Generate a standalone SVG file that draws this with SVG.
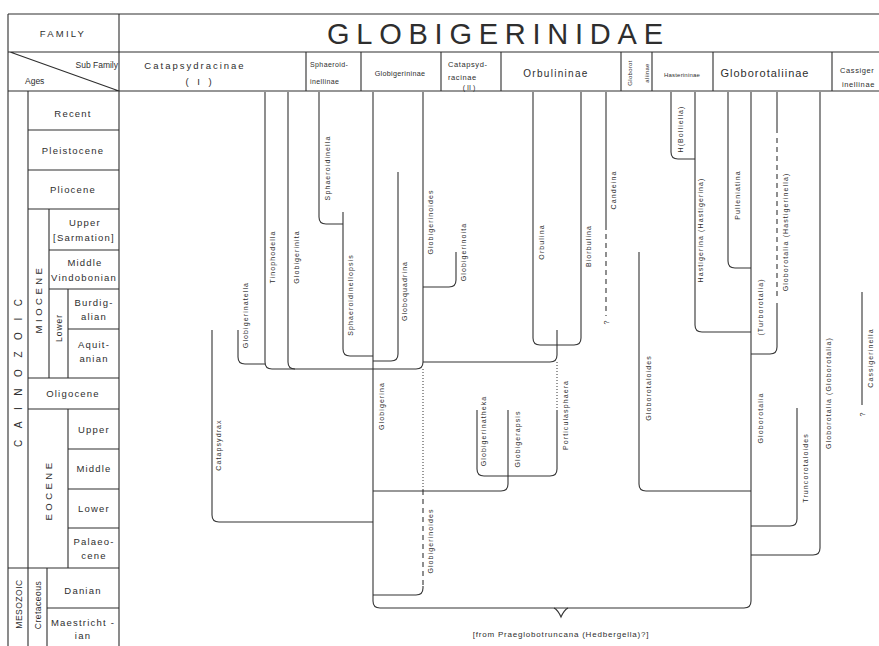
<svg xmlns="http://www.w3.org/2000/svg" width="879" height="646" viewBox="0 0 879 646">
<style>
.bg{fill:#fff}
.grid{stroke:#2e2e2e;stroke-width:1.1;fill:none}
.ln{stroke:#333;stroke-width:1.1;fill:none}
.dash{stroke:#333;stroke-width:1.1;fill:none;stroke-dasharray:5 4}
.dot{stroke:#333;stroke-width:1;fill:none;stroke-dasharray:1 2}
text{font-family:"Liberation Sans","DejaVu Sans",sans-serif;fill:#2e2e2e}
.lab{font-size:7px;letter-spacing:1.1px;text-anchor:middle}
.age{font-size:9.5px;letter-spacing:1.2px;text-anchor:middle}
.sf{text-anchor:middle}
</style>
<rect class="bg" x="0" y="0" width="879" height="646"/>

<g id="table">
<path class="grid" d="M8,14 H879 M8,52 H879 M8,91 H879 M8,14 V646 M119,14 V646 M10,52 L119,91"/>
<path class="grid" d="M306,52 V91 M361,52 V91 M441,52 V91 M501,52 V91 M621,52 V91 M652,52 V91 M713,52 V91 M832,52 V91"/>
<path class="grid" d="M28,91 V646 M28,130 H119 M28,170 H119 M28,209 H119 M49,209 V378 M49,250 H119 M49,289 H119 M68,289 V378 M68,329 H119 M28,378 H119 M28,409 H119 M68,409 V568 M68,449 H119 M68,489 H119 M68,528 H119 M8,568 H119 M47,568 V646 M47,608 H119"/>
</g>

<g id="header">
<text x="63" y="37" font-size="9.5" letter-spacing="2.2" text-anchor="middle">FAMILY</text>
<text x="327" y="44" font-size="29" textLength="336" lengthAdjust="spacing">GLOBIGERINIDAE</text>
<text x="118" y="68" font-size="8.5" text-anchor="end">Sub Family</text>
<text x="25" y="84" font-size="8.5">Ages</text>
<text class="sf" x="195" y="69" font-size="9.5" letter-spacing="2">Catapsydracinae</text>
<text class="sf" x="200" y="85" font-size="9.5" letter-spacing="3">( I )</text>
<text x="310" y="67" font-size="7" letter-spacing="0.4">Sphaeroid-</text>
<text x="310" y="84" font-size="7" letter-spacing="0.4">inellinae</text>
<text class="sf" x="400" y="76" font-size="7.2" letter-spacing="0.3">Globigerininae</text>
<text x="448" y="67" font-size="7.5" letter-spacing="0.6">Catapsyd-</text>
<text x="448" y="80" font-size="7.5" letter-spacing="0.6">racinae</text>
<text class="sf" x="469" y="90" font-size="7">( II )</text>
<text class="sf" x="556" y="77" font-size="10" letter-spacing="1.3">Orbulininae</text>
<text class="sf" transform="translate(632,73) rotate(-90)" font-size="6" letter-spacing="0.3">Globorot</text>
<text class="sf" transform="translate(649,73) rotate(-90)" font-size="6" letter-spacing="0.3">aliinae</text>
<text class="sf" x="682" y="77" font-size="6" letter-spacing="0.2">Hasterininae</text>
<text class="sf" x="765" y="77" font-size="11" letter-spacing="1">Globorotaliinae</text>
<text x="840" y="73" font-size="7.5" letter-spacing="0.6">Cassiger</text>
<text x="842" y="87" font-size="7.5" letter-spacing="0.6">inellinae</text>
</g>

<g id="ages">
<text class="age" x="73" y="117">Recent</text>
<text class="age" x="73" y="154">Pleistocene</text>
<text class="age" x="73" y="193">Pliocene</text>
<text class="age" x="85" y="226">Upper</text>
<text class="age" x="84" y="241" letter-spacing="0.5">[Sarmation]</text>
<text class="age" x="85" y="266">Middle</text>
<text class="age" x="84" y="281" letter-spacing="0.3">Vindobonian</text>
<text class="age" x="94" y="306">Burdig-</text>
<text class="age" x="94" y="320">alian</text>
<text class="age" x="94" y="348">Aquit-</text>
<text class="age" x="94" y="362">anian</text>
<text class="age" x="73" y="397">Oligocene</text>
<text class="age" x="94" y="433">Upper</text>
<text class="age" x="94" y="472">Middle</text>
<text class="age" x="94" y="512">Lower</text>
<text class="age" x="94" y="545">Palaeo-</text>
<text class="age" x="94" y="559">cene</text>
<text class="age" x="83" y="594">Danian</text>
<text class="age" x="83" y="626" letter-spacing="0.3">Maestricht -</text>
<text class="age" x="83" y="639">ian</text>
<text class="sf" transform="translate(21.5,373) rotate(-90)" font-size="10" textLength="148" lengthAdjust="spacing">CAINOZOIC</text>
<text class="sf" transform="translate(42,299) rotate(-90)" font-size="9.5" letter-spacing="3.5">MIOCENE</text>
<text class="sf" transform="translate(61.5,328) rotate(-90)" font-size="8.5" letter-spacing="1">Lower</text>
<text class="sf" transform="translate(52,490) rotate(-90)" font-size="9.5" letter-spacing="3.5">EOCENE</text>
<text class="sf" transform="translate(21.5,604) rotate(-90)" font-size="8.5" letter-spacing="0.5">MESOZOIC</text>
<text class="sf" transform="translate(41,605) rotate(-90)" font-size="8.5" letter-spacing="0.5">Cretaceous</text>
</g>

<g id="connectors">
<path class="ln" d="M212,330 V515 Q212,522 219,522 H373"/>
<path class="ln" d="M238,330 V357 Q238,364 245,364 H265"/>
<path class="ln" d="M265,92 V362 Q265,369 272,369 H416 Q423,369 423,362 V92"/>
<path class="ln" d="M288,92 V362 Q288,369 295,369"/>
<path class="ln" d="M319,92 V217 Q319,224 326,224 H343"/>
<path class="ln" d="M343,212 V349 Q343,356 350,356 H373"/>
<path class="ln" d="M373,92 V601 Q373,608 380,608 H744 Q751,608 751,601 V92"/>
<path class="ln" d="M554,608 Q558,610 561,617 Q564,610 568,608"/>
<path class="ln" d="M398,172 V354 Q398,361 391,361 H373"/>
<path class="ln" d="M456,252 V280 Q456,287 449,287 H423"/>
<path class="ln" d="M533,92 V338 Q533,345 540,345 H574 Q581,345 581,338 V92"/>
<path class="ln" d="M557,330 V355 Q557,362 550,362 H423"/>
<path class="dot" d="M557,362 V410"/>
<path class="ln" d="M557,410 V469 Q557,476 550,476 H484 Q477,476 477,469 V410"/>
<path class="ln" d="M508,410 V484 Q508,491 501,491 H373"/>
<path class="dot" d="M423,369 V490"/>
<path class="dash" d="M423,490 V586"/>
<path class="ln" d="M423,586 V588 Q423,595 416,595 H373"/>
<path class="ln" d="M606,92 V230"/>
<path class="dash" d="M606,234 V316"/>
<path class="ln" d="M671,92 V152 Q671,159 678,159 H695"/>
<path class="ln" d="M695,92 V325 Q695,332 702,332 H751"/>
<path class="ln" d="M728,92 V261 Q728,268 735,268 H751"/>
<path class="ln" d="M777,92 V133"/>
<path class="dash" d="M777,138 V300"/>
<path class="ln" d="M777,303 V347 Q777,354 770,354 H751"/>
<path class="ln" d="M820,92 V548 Q820,555 813,555 H751"/>
<path class="ln" d="M639,252 V484 Q639,491 646,491 H751"/>
<path class="ln" d="M797,408 V519 Q797,526 790,526 H751"/>
<path class="ln" d="M862,292 V405"/>
</g>

<g id="labels">
<text class="lab" transform="translate(221,445) rotate(-90)">Catapsydrax</text>
<text class="lab" transform="translate(248,315) rotate(-90)">Globigerinatella</text>
<text class="lab" transform="translate(275,257) rotate(-90)">Tinophodella</text>
<text class="lab" transform="translate(299,257) rotate(-90)">Globigerinita</text>
<text class="lab" transform="translate(330,168) rotate(-90)">Sphaeroidinella</text>
<text class="lab" transform="translate(353,295) rotate(-90)">Sphaeroidinellopsis</text>
<text class="lab" transform="translate(384,406) rotate(-90)">Globigerina</text>
<text class="lab" transform="translate(407,291) rotate(-90)">Globoquadrina</text>
<text class="lab" transform="translate(433,222) rotate(-90)">Globigerinoides</text>
<text class="lab" transform="translate(466,252) rotate(-90)">Globigerinoita</text>
<text class="lab" transform="translate(544,242) rotate(-90)">Orbulina</text>
<text class="lab" transform="translate(591,246) rotate(-90)">Biorbulina</text>
<text class="lab" transform="translate(616,190) rotate(-90)">Candeina</text>
<text class="lab" transform="translate(609,322) rotate(-90)" font-size="8">?</text>
<text class="lab" transform="translate(683,129) rotate(-90)">H(Bolliella)</text>
<text class="lab" transform="translate(703,230) rotate(-90)">Hastigerina (Hastigerina)</text>
<text class="lab" transform="translate(740,195) rotate(-90)">Pulleniatina</text>
<text class="lab" transform="translate(763,307) rotate(-90)">(Turborotalia)</text>
<text class="lab" transform="translate(788,232) rotate(-90)">Globorotalia (Hastigerinella)</text>
<text class="lab" transform="translate(831,393) rotate(-90)">Globorotalia (Globorotalia)</text>
<text class="lab" transform="translate(873,358) rotate(-90)">Cassigerinella</text>
<text class="lab" transform="translate(865,414) rotate(-90)" font-size="8">?</text>
<text class="lab" transform="translate(651,388) rotate(-90)">Globorotaloides</text>
<text class="lab" transform="translate(763,418) rotate(-90)">Globorotalia</text>
<text class="lab" transform="translate(808,468) rotate(-90)">Truncorotaloides</text>
<text class="lab" transform="translate(486,431) rotate(-90)">Globigerinatheka</text>
<text class="lab" transform="translate(520,439) rotate(-90)">Globigerapsis</text>
<text class="lab" transform="translate(568,415) rotate(-90)">Porticulasphaera</text>
<text class="lab" transform="translate(433,541) rotate(-90)">Globigerinoides</text>
<text x="561" y="637" font-size="8" letter-spacing="0.8" text-anchor="middle">[from Praeglobotruncana (Hedbergella)?]</text>
</g>
</svg>
